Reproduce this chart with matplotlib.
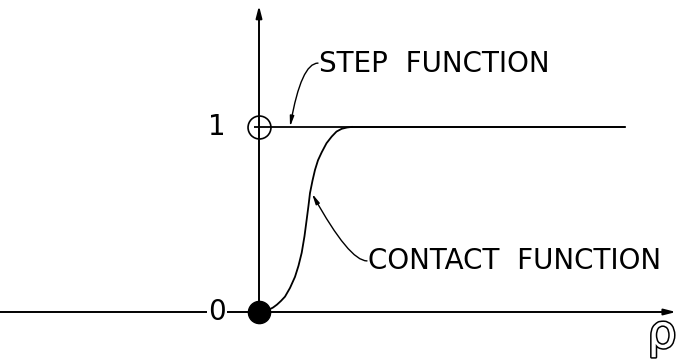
import matplotlib
matplotlib.use("Agg")
import matplotlib.pyplot as plt
import matplotlib.patheffects as pe

# contact function, sampled points (rho, value)
rho_contact = [0.0, 0.05, 0.093, 0.14, 0.18, 0.22, 0.26, 0.31, 0.36, 0.395, 0.427, 0.455,
               0.477, 0.495, 0.51, 0.535, 0.56, 0.59, 0.627, 0.675, 0.727, 0.775, 0.827,
               0.88, 0.927]
val_contact = [0.0, 0.003, 0.011, 0.024, 0.04, 0.06, 0.083, 0.13, 0.19, 0.25, 0.32, 0.41,
               0.50, 0.575, 0.643, 0.71, 0.768, 0.82, 0.863, 0.912, 0.948, 0.975, 0.99,
               0.997, 1.0]

# step function: jumps from 0 to 1 at rho = 0
rho_step = [-0.05, 3.66]
val_step = [1.0, 1.0]
rho_end = 3.66

y_labels = ["0", "1"]
y_label_pos = [0.0, 1.0]

fig = plt.figure(figsize=(6.78, 3.59), dpi=100)
ax = fig.add_axes([0, 0, 1, 1])
ax.set_xlim(-2.59, 4.19)
ax.set_ylim(-0.254, 1.686)
ax.axis("off")

lw = 1.4
arrow_kw = dict(arrowstyle="-|>,head_length=0.7,head_width=0.18", color="black", lw=lw,
                shrinkA=0, shrinkB=0)

# axes with arrow heads
ax.annotate("", xy=(4.17, 0), xytext=(-2.6, 0), arrowprops=arrow_kw)
ax.annotate("", xy=(0, 1.655), xytext=(0, 0), arrowprops=arrow_kw)

# curves
ax.plot(rho_step, val_step, color="black", lw=1.3, solid_capstyle="butt")
ax.plot(rho_contact, val_contact, color="black", lw=1.3, solid_joinstyle="round")
ax.plot([rho_contact[-1], rho_end], [1.0, 1.0], color="black", lw=1.3)

# open and filled end points
ax.plot(0, 1, marker="o", ms=16.5, mfc="none", mec="black", mew=1.2)
ax.plot(0, 0, marker="o", ms=16, mfc="black", mec="black", zorder=5)

txt = dict(fontsize=20, color="black", family="DejaVu Sans")
for lab, yv in zip(y_labels, y_label_pos):
    ax.text(-0.42, yv, lab, ha="center", va="center",
            bbox=dict(facecolor="white", edgecolor="none", pad=1), **txt)

ax.text(0.6, 1.34, "STEP  FUNCTION", ha="left", va="center", **txt)
ax.text(1.09, 0.276, "CONTACT  FUNCTION", ha="left", va="center", **txt)

lead_kw = dict(arrowstyle="-|>,head_length=0.6,head_width=0.12", color="black", lw=1.0,
               shrinkA=0, shrinkB=0)
ax.annotate("", xy=(0.31, 1.0), xytext=(0.59, 1.345),
            arrowprops=dict(connectionstyle="angle3,angleA=180,angleB=80", **lead_kw))
ax.annotate("", xy=(0.53, 0.64), xytext=(1.08, 0.276),
            arrowprops=dict(connectionstyle="angle3,angleA=180,angleB=119", **lead_kw))

rho = ax.text(4.03, -0.125, "\u03c1", ha="center", va="center", fontsize=33,
              color="white", family="DejaVu Sans")
rho.set_path_effects([pe.Stroke(linewidth=2.2, foreground="black"), pe.Normal()])

fig.savefig("out.png", dpi=100)
